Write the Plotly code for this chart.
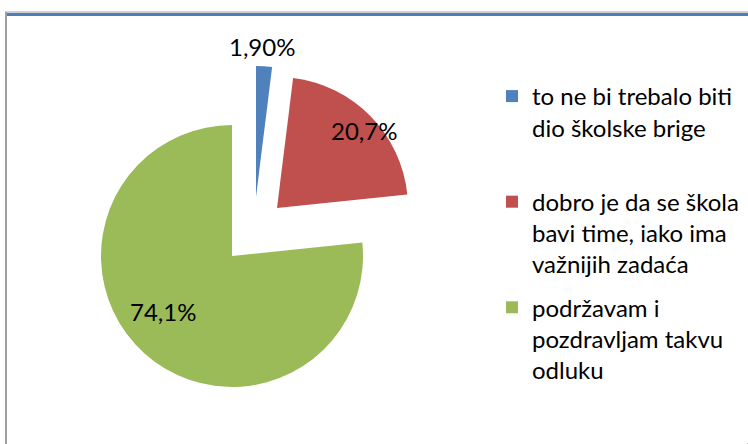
import math
import plotly.graph_objects as go

# ---- data ----
labels = [
    "to ne bi trebalo biti<br>dio školske brige<br>\u00a0",
    "dobro je da se škola<br>bavi time, iako ima<br>važnijih zadaća",
    "podržavam i<br>pozdravljam takvu<br>odluku",
]
values = [1.90, 20.7, 74.1]
value_text = ["1,90%", "20,7%", "74,1%"]
colors = ["#4F81BD", "#C0504D", "#9BBB59"]

# ---- layout geometry (pixels) ----
W, H = 748, 444
R = 131
CX, CY = 232, 256                          # centre of the un-exploded pie
offsets = [(24, -59), (45, -48), (0, 0)]   # explosion of each slice
label_r = [1.15, 0.89, 0.68]               # label distance (fraction of radius)
label_dtheta = [-1.2, 3.0, 9.0]            # label angle nudge (degrees)
FONT = "Lato, 'Liberation Sans', Arial, sans-serif"


def domain(cx, cy):
    return dict(x=[(cx - R) / W, (cx + R) / W],
                y=[1 - (cy + R) / H, 1 - (cy - R) / H])


def px(x):
    return x / W


def py(y):
    return 1 - y / H


fig = go.Figure()

# one pie per exploded slice: same values, only its own slice coloured
for i in range(len(values)):
    cols = [c if j == i else "rgba(0,0,0,0)" for j, c in enumerate(colors)]
    dx, dy = offsets[i]
    fig.add_trace(go.Pie(
        labels=labels, values=values, textinfo="none",
        sort=False, direction="clockwise", rotation=0,
        marker=dict(colors=cols, line=dict(width=0)),
        domain=domain(CX + dx, CY + dy), showlegend=False,
        hoverinfo="skip",
    ))

# legend carriers (tiny single-slice pies, one legend group each)
for i in range(len(values)):
    fig.add_trace(go.Pie(
        labels=[labels[i]], values=[values[i]], textinfo="none", sort=False,
        marker=dict(colors=[colors[i]]), legendgroup="g%d" % i,
        domain=dict(x=[0.999, 1.0], y=[0.0, 0.001]), showlegend=True,
        hoverinfo="skip",
    ))

# data labels near each slice's mid-angle
total = sum(values)
annotations = []
cum = 0.0
for i, v in enumerate(values):
    theta = math.radians(360 * (cum + v / 2) / total + label_dtheta[i])
    cum += v
    dx, dy = offsets[i]
    lx = CX + dx + label_r[i] * R * math.sin(theta)
    ly = CY + dy - label_r[i] * R * math.cos(theta)
    annotations.append(dict(
        x=px(lx), y=py(ly), xref="paper", yref="paper", text=value_text[i],
        showarrow=False, xanchor="center", yanchor="middle",
        font=dict(family=FONT, size=24, color="black"),
    ))

shapes = [
    dict(type="line", xref="paper", yref="paper", x0=px(5), x1=px(W), y0=py(12), y1=py(12),
         line=dict(color="#A0A0A0", width=1)),
    dict(type="line", xref="paper", yref="paper", x0=px(6), x1=px(W), y0=py(14.5), y1=py(14.5),
         line=dict(color="#4A7EBB", width=3)),
    dict(type="line", xref="paper", yref="paper", x0=px(6), x1=px(6), y0=py(12), y1=py(H),
         line=dict(color="#A0A0A0", width=2)),
]

fig.update_layout(
    width=W, height=H,
    margin=dict(l=0, r=0, t=0, b=0, autoexpand=False),
    paper_bgcolor="white", plot_bgcolor="white",
    shapes=shapes, annotations=annotations,
    legend=dict(x=px(492), y=py(74), xanchor="left", yanchor="top",
                valign="top", tracegroupgap=9,
                font=dict(family=FONT, size=24, color="black"),
                bgcolor="rgba(0,0,0,0)", itemwidth=30),
)

fig.write_html("out.html", config={"displayModeBar": False},
               post_script="document.body.style.margin='0px';")
